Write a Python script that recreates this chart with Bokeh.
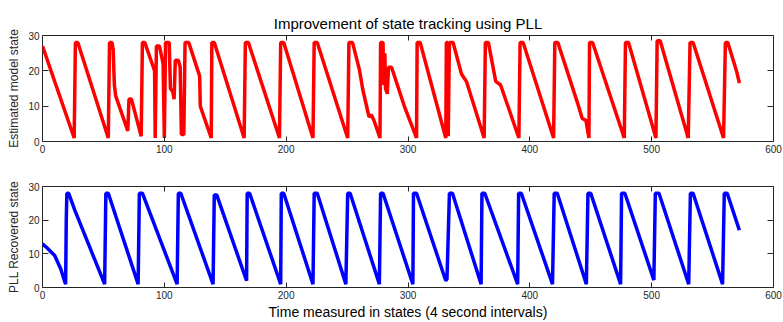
from bokeh.plotting import figure
from bokeh.models import Range1d, LinearAxis, FixedTicker
from bokeh.layouts import column
from bokeh.embed import file_html
from bokeh.resources import INLINE

# ---- data (vertices of the traces) ----
x_ticks = [0, 100, 200, 300, 400, 500, 600]
y_ticks = [0, 10, 20, 30]

red_x = [0, 26, 27, 29, 54, 55, 57, 58, 59, 60, 61, 70, 71, 73, 81, 82, 84,
         91, 92, 92.5, 93.5, 96, 99, 100, 101, 104, 105, 107, 108, 109, 111.5,
         113, 114, 116, 117, 120, 121, 129, 129.5, 138.5, 139, 141,
         165.5, 166.5, 169, 194.5, 195.5, 198, 222, 223, 225.5,
         250.5, 251.5, 254.5, 260, 263, 268, 270, 272, 277, 277.5, 279.5,
         280, 281, 281.5, 283, 284, 286.5, 297.5, 307, 307.5, 310,
         331, 331.5, 332.5, 333, 334, 337, 344, 348, 362.5, 363.5, 366,
         372, 376, 391, 392, 394.5, 419.5, 420.5, 423, 440, 443, 446, 448.5,
         449, 451.5, 477.5, 478.5, 481, 503.5, 504.5, 507, 530, 531.5, 534,
         559, 560.5, 562.5, 570, 572]
red_y = [27, 1, 28, 28, 1, 28, 28, 26, 16, 13, 12, 3, 12, 12, 1.5, 28, 28,
         21, 20, 1, 27, 27, 22, 1, 28, 28, 15, 14, 12, 23, 23,
         21, 2, 2, 28, 28, 27, 18.5, 10, 1, 28, 28,
         1, 28, 28, 1, 28, 28, 1, 28, 28,
         1, 28, 28, 20.5, 14.5, 7, 7.5, 6, 1, 28, 28,
         16, 25, 15, 13.5, 21, 21, 9.5, 1, 28, 28,
         1, 28, 28, 1.5, 28, 28, 19, 17, 1, 28, 28,
         17, 16, 1, 28, 28, 1, 28, 28, 10, 6.5, 6, 1,
         28, 28, 1, 28, 28, 1, 28.5, 28.5, 1, 28, 28,
         1, 28, 28, 19.5, 16.5]

blue_x = [0, 3, 10, 15, 18.5, 19, 19.5, 20, 21.5, 26.5, 51, 52, 54,
          78.5, 79.5, 82, 110.5, 111.5, 113.5, 140, 141, 143,
          167.5, 168, 170, 195.5, 196, 198, 222, 223, 225.5,
          249, 250.5, 252.5, 276.5, 277.5, 279.5, 304, 304.5, 307,
          331, 332, 334, 336.5, 360, 360.7, 363, 390, 390.8, 393,
          418.6, 420, 422.5, 446.4, 447.7, 450, 474.5, 475.3, 478,
          501.8, 503, 506, 530.4, 531.8, 534, 558.2, 559.6, 562, 572]
blue_y = [13, 12, 9.5, 5.5, 1.5, 1, 20, 28, 28, 23, 1, 28, 28,
          1, 28, 28, 1, 28, 28, 1, 27.5, 27.5,
          2, 28, 28, 1, 28, 28, 1, 28, 28,
          1, 28, 28, 1, 28, 28, 1, 28, 28,
          2, 2.5, 28, 28, 1, 28, 28, 1, 28, 28,
          1, 28, 28, 1, 28, 28, 1, 28, 28,
          2.2, 28, 28, 1, 28, 28, 1, 28, 28, 17]

title_text = "Improvement of state tracking using PLL"
top_ylabel = "Estimated model state"
bottom_ylabel = "PLL Recovered state"
x_label = "Time measured in states (4 second intervals)"

FONT = "Liberation Sans"
AX = "#262626"
W = 783


def style_axis(ax, ticks, tick_len, labels=True):
    ax.ticker = FixedTicker(ticks=ticks)
    ax.axis_line_color = None
    ax.major_tick_in = tick_len
    ax.major_tick_out = 0
    ax.major_tick_line_color = AX
    ax.minor_tick_line_color = None
    ax.major_label_text_font = FONT
    if labels:
        ax.major_label_text_color = AX
        ax.major_label_text_font_size = "10px"
        ax.major_label_standoff = 3
    else:
        ax.major_label_overrides = {t: "" for t in ticks}
        ax.major_label_text_color = None
        ax.major_label_standoff = 0


def make_fig(height, b_top, b_bottom, ylabel, title=None):
    p = figure(width=W, height=height, x_range=Range1d(0, 600),
               y_range=Range1d(0, 30), output_backend="svg",
               toolbar_location=None, min_border_left=42,
               min_border_right=10, min_border_top=b_top,
               min_border_bottom=b_bottom, title=title)
    p.xgrid.visible = False
    p.ygrid.visible = False
    p.outline_line_color = AX
    p.outline_line_width = 1
    p.background_fill_color = "white"
    p.border_fill_color = "white"
    style_axis(p.below[0], x_ticks, 5)
    yax = p.left[0]
    style_axis(yax, y_ticks, 6)
    yax.axis_label = ylabel
    yax.axis_label_text_font = FONT
    yax.axis_label_text_font_size = "12px"
    yax.axis_label_text_font_style = "normal"
    yax.axis_label_text_color = AX
    yax.axis_label_standoff = 4
    top = LinearAxis()
    style_axis(top, x_ticks, 5, labels=False)
    p.add_layout(top, "above")
    right = LinearAxis()
    style_axis(right, y_ticks, 6, labels=False)
    p.add_layout(right, "right")
    if title is not None:
        p.title.text_font = FONT
        p.title.text_font_size = "15px"
        p.title.text_font_style = "normal"
        p.title.text_color = "black"
        p.title.align = "center"
        p.title.standoff = 8
    return p


p1 = make_fig(176, 35, 35, top_ylabel, title=title_text)
p1.line(red_x, red_y, line_color="#ff0000", line_width=3.5)

p2 = make_fig(146, 10, 31, bottom_ylabel)
p2.line(blue_x, blue_y, line_color="#0000ff", line_width=3.5)
xax = p2.below[0]
xax.axis_label = x_label
xax.axis_label_text_font = FONT
xax.axis_label_text_font_size = "14px"
xax.axis_label_text_font_style = "normal"
xax.axis_label_text_color = "black"
xax.axis_label_standoff = 2

layout = column(p1, p2, spacing=0)
open("out.html", "w").write(file_html(layout, INLINE))
